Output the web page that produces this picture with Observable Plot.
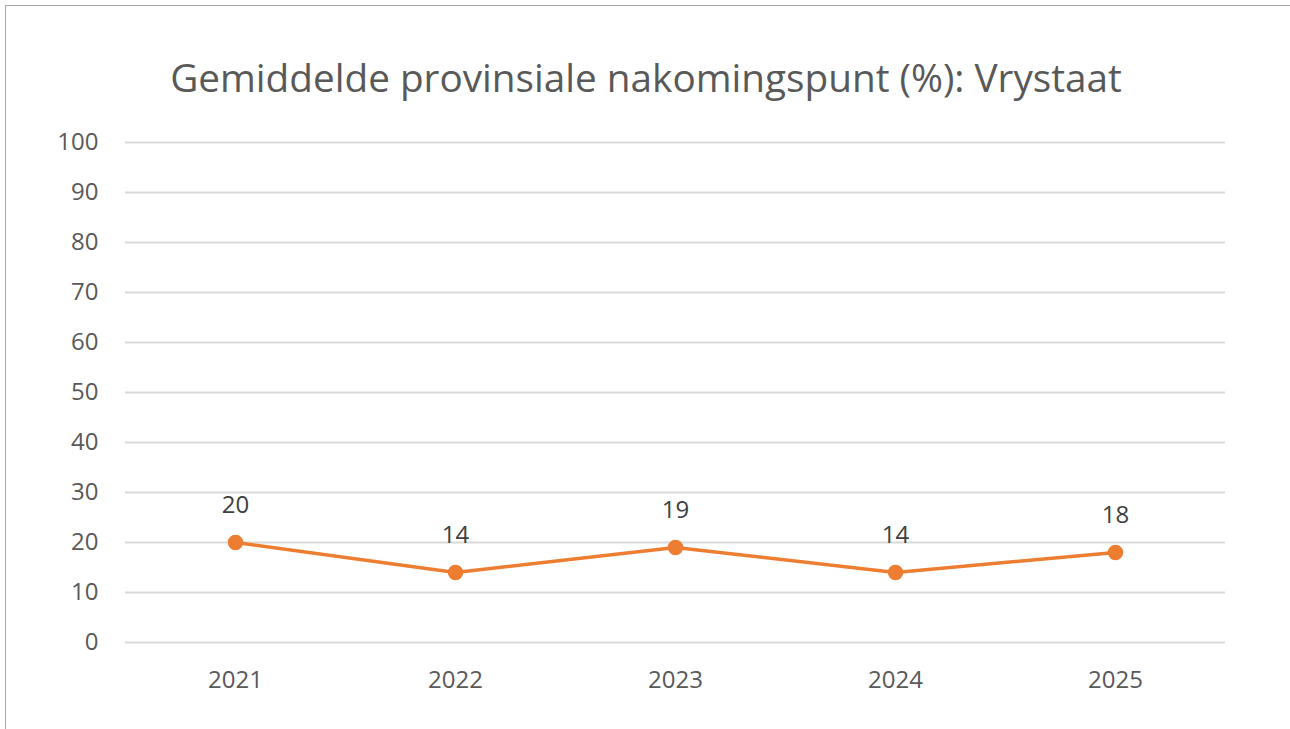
<!DOCTYPE html>
<html>
<head>
<meta charset="utf-8">
<script src="https://cdn.jsdelivr.net/npm/d3@7"></script>
<script src="https://cdn.jsdelivr.net/npm/@observablehq/plot@0.6"></script>
<style>
  html, body { margin: 0; padding: 0; background: #fff; }
  #wrap { position: relative; width: 1290px; height: 729px; overflow: hidden; background: #fff; }
  #frame { position: absolute; left: 5px; top: 5px; width: 1290px; height: 729px;
           border-left: 1.5px solid #a6a6a6; border-top: 1.5px solid #a6a6a6; pointer-events: none; }
  #title { position: absolute; left: 0; width: 1292px; top: 58px; height: 40px; text-align: center;
           font-family: "Open Sans", sans-serif; font-size: 34px; line-height: 1; color: #595959; white-space: nowrap; }
  #chart { position: absolute; left: 0; top: 110px; }
</style>
</head>
<body>
<div id="wrap">
  <div id="title">Gemiddelde provinsiale nakomingspunt (%): Vrystaat</div>
  <div id="chart"></div>
  <div id="frame"></div>
</div>
<script>
const years = ["2021", "2022", "2023", "2024", "2025"];
const scores = [20, 14, 19, 14, 18];
const yTicks = [0, 10, 20, 30, 40, 50, 60, 70, 80, 90, 100];

const data = years.map((y, i) => ({year: y, score: scores[i]}));

// fit title width to reference
(function fitTitle() {
  const el = document.getElementById("title");
  const c = document.createElement("canvas").getContext("2d");
  c.font = '34px "Open Sans"';
  const w = c.measureText(el.textContent).width;
  const fs = 34 * 952 / w;
  el.style.fontSize = fs.toFixed(2) + "px";
})();

const chart = Plot.plot({
  width: 1290,
  height: 619,
  marginTop: 32,
  marginBottom: 87,
  marginLeft: 125,
  marginRight: 65,
  style: {fontFamily: "'Open Sans', sans-serif", fontSize: "24px", color: "#595959", background: "#fff"},
  x: {type: "point", domain: years, padding: 0.5, label: null},
  y: {domain: [0, 100], ticks: yTicks, label: null},
  marks: [
    Plot.ruleY(yTicks, {stroke: "#d9d9d9", strokeWidth: 2}),
    Plot.axisX({tickSize: 0, tickPadding: 28, fontSize: 24, fill: "#595959", label: null}),
    Plot.axisY({ticks: yTicks, tickSize: 0, tickPadding: 27, fontSize: 24, fill: "#595959", label: null}),
    Plot.line(data, {x: "year", y: "score", stroke: "#ED7D31", strokeWidth: 3.5}),
    Plot.dot(data, {x: "year", y: "score", r: 7, fill: "#ED7D31", stroke: "#ED7D31"}),
    Plot.text(data, {x: "year", y: "score", text: d => String(d.score), dy: -37, fontSize: 24, fill: "#404040", lineAnchor: "middle"})
  ]
});
document.getElementById("chart").appendChild(chart);
</script>
</body>
</html>
